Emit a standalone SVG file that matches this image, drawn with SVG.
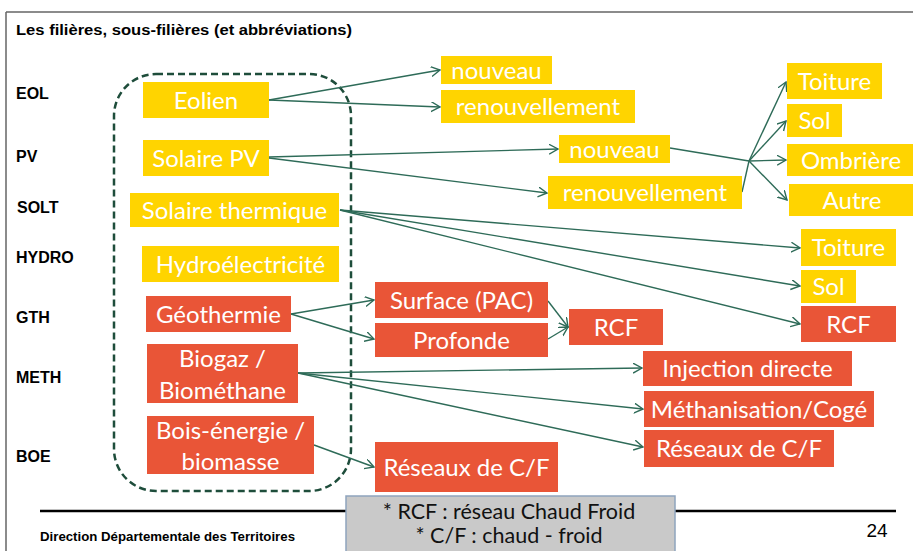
<svg xmlns="http://www.w3.org/2000/svg" width="913" height="551" viewBox="0 0 913 551">
<style>
.y{fill:#FFD400}
.o{fill:#E95537}
.bt{font-family:Lato,"Open Sans",sans-serif;font-size:24px;fill:#ffffff;text-anchor:middle}
.lb{font-family:"Liberation Sans",Arial,sans-serif;font-weight:bold;font-size:16px;fill:#000}
.cn{fill:none;stroke:#2E6B58;stroke-width:1.4}
.ar{marker-end:url(#arr)}
.lg{font-family:Lato,"Open Sans",sans-serif;font-size:21.5px;fill:#111;text-anchor:middle}
</style>
<defs>
<marker id="arr" markerUnits="userSpaceOnUse" markerWidth="12" markerHeight="12" refX="9" refY="5" orient="auto">
<path d="M0,0 L9,5 L0,10" fill="none" stroke="#2E6B58" stroke-width="1.4"/>
</marker>
</defs>
<rect width="913" height="551" fill="#ffffff"/>
<g id="frame">
<path d="M6,12 L913,12 M6,12 L6,551" fill="none" stroke="#666" stroke-width="1.5"/>
<text x="16" y="35" font-family="Liberation Sans,Arial,sans-serif" font-weight="bold" font-size="14.5" textLength="336" lengthAdjust="spacingAndGlyphs">Les filières, sous-filières (et abbréviations)</text>
<path d="M40,511 L346,511 M675,511 L896,511" stroke="#000" stroke-width="2.5"/>
<text x="40" y="541" font-family="Liberation Sans,Arial,sans-serif" font-weight="bold" font-size="13.5" textLength="255" lengthAdjust="spacingAndGlyphs">Direction Départementale des Territoires</text>
<text x="877" y="537" font-family="Liberation Sans,Arial,sans-serif" font-size="19" text-anchor="middle">24</text>
</g>
<g id="abbrev">
<text class="lb" x="16" y="99">EOL</text>
<text class="lb" x="16" y="162">PV</text>
<text class="lb" x="17" y="213">SOLT</text>
<text class="lb" x="16" y="263">HYDRO</text>
<text class="lb" x="16" y="323">GTH</text>
<text class="lb" x="16" y="382.5">METH</text>
<text class="lb" x="16" y="461.5">BOE</text>
</g>
<g id="group-filieres">
<rect x="114" y="74" width="237" height="417" rx="42" ry="42" fill="none" stroke="#1E4D3B" stroke-width="2.5" stroke-dasharray="7,4"/>
</g>
<g id="connectors">
<path class="cn ar" d="M269,100 L440,70"/>
<path class="cn ar" d="M269,100 L440,107"/>
<path class="cn ar" d="M269,157 L558,149"/>
<path class="cn ar" d="M269,158 L547,193"/>
<path class="cn" d="M670,148 L749,161"/>
<path class="cn" d="M742,192 L749,161"/>
<path class="cn ar" d="M749,161 L786,82"/>
<path class="cn ar" d="M749,161 L786,121"/>
<path class="cn ar" d="M749,161 L786,160"/>
<path class="cn ar" d="M749,161 L787,200"/>
<path class="cn ar" d="M340,210 L800,248"/>
<path class="cn ar" d="M340,210 L800,286"/>
<path class="cn ar" d="M340,210 L800,324"/>
<path class="cn ar" d="M291,314 L374,300"/>
<path class="cn ar" d="M291,314 L374,339"/>
<path class="cn ar" d="M548,301 L568,327"/>
<path class="cn ar" d="M548,339 L568,327"/>
<path class="cn ar" d="M298,373 L642,368"/>
<path class="cn ar" d="M298,373 L643,409"/>
<path class="cn ar" d="M298,373 L643,447"/>
<path class="cn ar" d="M314,445 L374,467"/>
</g>
<g id="eolien"><rect class="y" x="143" y="82" width="126" height="36"/><text class="bt" x="206" y="108.5">Eolien</text></g>
<g id="solaire-pv"><rect class="y" x="143" y="140" width="126" height="36"/><text class="bt" x="206" y="166.5">Solaire PV</text></g>
<g id="solaire-thermique"><rect class="y" x="130" y="193" width="209" height="34"/><text class="bt" x="234.5" y="218.5">Solaire thermique</text></g>
<g id="hydro"><rect class="y" x="142" y="246" width="197" height="36"/><text class="bt" x="240.5" y="272.5">Hydroélectricité</text></g>
<g id="eol-nouveau"><rect class="y" x="441" y="56" width="111" height="28"/><text class="bt" x="496.5" y="78.5">nouveau</text></g>
<g id="eol-renouvellement"><rect class="y" x="441" y="90" width="194" height="33"/><text class="bt" x="538" y="115">renouvellement</text></g>
<g id="pv-nouveau"><rect class="y" x="559" y="135" width="111" height="28"/><text class="bt" x="614.5" y="157.5">nouveau</text></g>
<g id="pv-renouvellement"><rect class="y" x="548" y="176" width="194" height="33"/><text class="bt" x="645" y="201">renouvellement</text></g>
<g id="pv-toiture"><rect class="y" x="787" y="63" width="95" height="36"/><text class="bt" x="834.5" y="89.5">Toiture</text></g>
<g id="pv-sol"><rect class="y" x="787" y="104" width="55" height="33"/><text class="bt" x="814.5" y="129">Sol</text></g>
<g id="pv-ombriere"><rect class="y" x="787" y="144" width="130" height="32"/><text class="bt" x="851" y="168.5">Ombrière</text></g>
<g id="pv-autre"><rect class="y" x="789" y="184" width="128" height="32"/><text class="bt" x="852" y="208.5">Autre</text></g>
<g id="solt-toiture"><rect class="y" x="801" y="229" width="95" height="37"/><text class="bt" x="848.5" y="256">Toiture</text></g>
<g id="solt-sol"><rect class="y" x="801" y="270" width="55" height="33"/><text class="bt" x="828.5" y="295">Sol</text></g>
<g id="solt-rcf"><rect class="o" x="801" y="306" width="95" height="36"/><text class="bt" x="848.5" y="332.5">RCF</text></g>
<g id="geothermie"><rect class="o" x="146" y="296" width="145" height="36"/><text class="bt" x="218.5" y="322.5">Géothermie</text></g>
<g id="biogaz"><rect class="o" x="147" y="344" width="151" height="59"/><text class="bt" x="222.5" y="367">Biogaz /</text><text class="bt" x="222.5" y="398.5">Biométhane</text></g>
<g id="bois-energie"><rect class="o" x="147" y="416" width="167" height="58"/><text class="bt" x="230.5" y="439">Bois-énergie /</text><text class="bt" x="230.5" y="470">biomasse</text></g>
<g id="gth-surface"><rect class="o" x="375" y="282" width="173" height="36"/><text class="bt" x="461.5" y="308.5">Surface (PAC)</text></g>
<g id="gth-profonde"><rect class="o" x="375" y="323" width="173" height="34"/><text class="bt" x="461.5" y="348.5">Profonde</text></g>
<g id="gth-rcf"><rect class="o" x="569" y="309" width="94" height="36"/><text class="bt" x="616" y="335.5">RCF</text></g>
<g id="boe-reseaux"><rect class="o" x="375" y="442" width="183" height="50"/><text class="bt" x="466.5" y="476">Réseaux de C/F</text></g>
<g id="meth-injection"><rect class="o" x="643" y="351" width="209" height="35"/><text class="bt" x="747.5" y="377">Injection directe</text></g>
<g id="meth-methanisation"><rect class="o" x="644" y="391" width="230" height="36"/><text class="bt" x="759" y="417.5">Méthanisation/Cogé</text></g>
<g id="meth-reseaux"><rect class="o" x="644" y="430" width="190" height="37"/><text class="bt" x="739" y="457">Réseaux de C/F</text></g>
<g id="legend">
<rect x="346" y="496" width="329" height="62" fill="#C9C9C9" stroke="#8EA4BD" stroke-width="1.5"/>
<text class="lg" x="509" y="518.5">* RCF : réseau Chaud Froid</text>
<text class="lg" x="509" y="543">* C/F : chaud - froid</text>
</g>
</svg>
